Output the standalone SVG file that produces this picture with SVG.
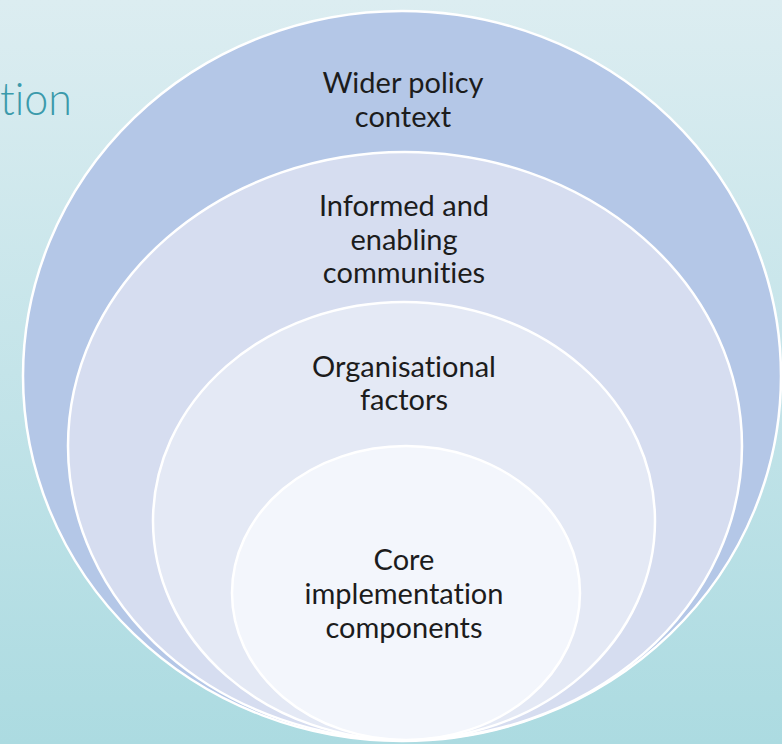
<svg xmlns="http://www.w3.org/2000/svg" width="782" height="744" viewBox="0 0 782 744">
  <defs>
    <linearGradient id="bg" x1="0" y1="0" x2="0" y2="1">
      <stop offset="0" stop-color="#dcedf1"/>
      <stop offset="1" stop-color="#acdbe1"/>
    </linearGradient>
    <style>
      .ring { stroke: #ffffff; stroke-width: 2.5; }
      .label { font-family: "Lato", "Open Sans", sans-serif; font-size: 29px; fill: #1c1c1c; text-anchor: middle; font-variant-ligatures: none; }
      .title { font-family: "Lato", "Open Sans", sans-serif; font-weight: 300; font-size: 46px; fill: #3b9aab; font-variant-ligatures: none; }
    </style>
  </defs>

  <!-- slide background -->
  <rect x="0" y="0" width="782" height="744" fill="url(#bg)"/>

  <!-- slide title fragment -->
  <text class="title" x="0" y="115" textLength="72" lengthAdjust="spacingAndGlyphs">tion</text>

  <!-- nested layers, outermost first -->
  <g id="wider-policy">
    <ellipse class="ring" cx="402" cy="376" rx="379" ry="365" fill="#b4c7e7"/>
    <text class="label" x="403" y="93">Wider policy</text>
    <text class="label" x="403" y="127">context</text>
  </g>

  <g id="communities">
    <ellipse class="ring" cx="405" cy="446" rx="337" ry="294" fill="#d6ddf0"/>
    <text class="label" x="404" y="216">Informed and</text>
    <text class="label" x="404" y="250">enabling</text>
    <text class="label" x="404" y="283">communities</text>
  </g>

  <g id="organisational">
    <ellipse class="ring" cx="404" cy="521" rx="251" ry="219" fill="#e4e9f5"/>
    <text class="label" x="404" y="377">Organisational</text>
    <text class="label" x="404" y="410">factors</text>
  </g>

  <g id="core">
    <ellipse class="ring" cx="406" cy="593" rx="174" ry="147" fill="#f3f6fc"/>
    <text class="label" x="404" y="570">Core</text>
    <text class="label" x="404" y="604">implementation</text>
    <text class="label" x="404" y="638">components</text>
  </g>

  <g id="connectors"/>
</svg>
